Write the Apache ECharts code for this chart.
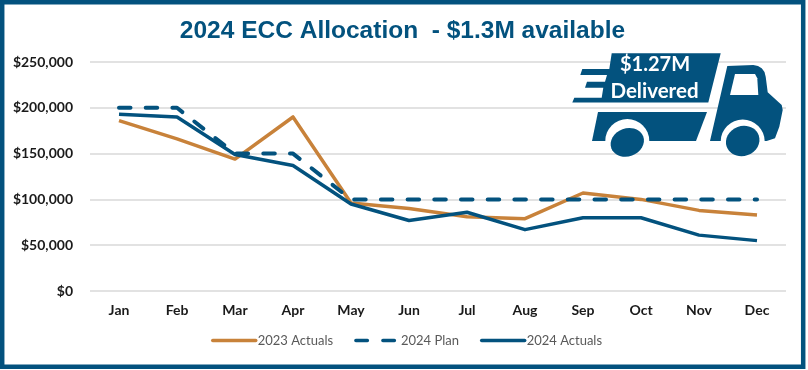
<!DOCTYPE html>
<html><head><meta charset="utf-8">
<style>html,body{margin:0;padding:0;background:#fff}#c{width:808px;height:370px}</style>
<script src="https://cdn.jsdelivr.net/npm/echarts@6/dist/echarts.min.js"></script>
</head><body><div id="c"></div>
<script>
const months = ['Jan','Feb','Mar','Apr','May','Jun','Jul','Aug','Sep','Oct','Nov','Dec'];
const actuals2023 = [186000,166000,144000,190000,96000,90000,81000,79000,107000,100000,88000,83000];
const plan2024 = [200000,200000,150000,150000,100000,100000,100000,100000,100000,100000,100000,100000];
const actuals2024 = [193000,190000,149000,137000,95000,77000,86000,67000,80000,80000,61000,55000];
const NAVY = '#03527e', ORANGE = '#c8823a';
const font = 'Lato, "Open Sans", sans-serif';
const truckBox = [[611.7,53.3],[720.7,53.3],[708.3,102.5],[572.3,102.5],[574.3,97.7],[601.7,97.7],[603.3,87.7],[585,87.7],[587,81.7],[605,81.7],[607,75],[580.3,75],[582.3,69],[609.3,69]];
const truckBody = [[598,112],[707,112],[696,141],[592,141]];
const truckCab = [[727.3,66],[753.3,65],[758,66],[761.7,68.3],[764.5,72],[765.7,76.7],[767.7,92.3],[781.7,105],[782.7,110],[779.3,126.7],[775,138.3],[766.7,141],[710,141]];
const truckWindow = [[735,74],[755,74],[757.3,78.3],[758.3,95],[730,95]];
const arch = (cx, cy, r) => ({type:'sector', z:21, shape:{cx, cy, r, startAngle:Math.PI, endAngle:2*Math.PI}, style:{fill:'#fff'}});
const wheel = (x, y, rx, ry) => ({type:'ellipse', z:22, x, y, rotation:0.35, shape:{cx:0, cy:0, rx, ry}, style:{fill:NAVY}});
const poly = (points, fill, z) => ({type:'polygon', z, shape:{points}, style:{fill}});
const chart = echarts.init(document.getElementById('c'), null, {renderer:'canvas'});
chart.setOption({
  animation:false,
  backgroundColor:'#fff',
  title:{text:'2024 ECC Allocation  - $1.3M available', left:397.5, top:14, textAlign:'center',
    textStyle:{fontFamily:'"Liberation Sans", Arial, sans-serif', fontWeight:'bold', fontSize:24.5, color:NAVY}},
  grid:{left:90, right:22, top:62, bottom:79},
  legend:{bottom:18, left:206, itemWidth:43, itemHeight:4, itemGap:21,
    itemStyle:{opacity:0},
    lineStyle:{width:3.5, cap:'round'},
    textStyle:{fontFamily:font, fontSize:13, color:'#595959', padding:[0,0,0,-3]},
    data:['2023 Actuals',{name:'2024 Plan', lineStyle:{type:[11.5,15.5], width:3.5, cap:'round'}},'2024 Actuals']},
  xAxis:{type:'category', data:months, boundaryGap:true,
    axisLine:{show:false}, axisTick:{show:false},
    axisLabel:{fontFamily:font, fontWeight:'bold', fontSize:14, color:'#1a1a1a', margin:12}},
  yAxis:{type:'value', min:0, max:250000, interval:50000,
    axisLine:{show:false}, axisTick:{show:false},
    splitLine:{lineStyle:{color:'#d9d9d9', width:1.5}},
    axisLabel:{fontFamily:font, fontWeight:'bold', fontSize:14, color:'#1a1a1a', margin:17,
      formatter:v => '$' + v.toLocaleString('en-US')}},
  series:[
    {name:'2023 Actuals', type:'line', data:actuals2023, symbol:'none', z:3, lineStyle:{color:ORANGE, width:3.5, join:'round'}, itemStyle:{color:ORANGE}},
    {name:'2024 Plan', type:'line', data:plan2024, symbol:'none', z:4, lineStyle:{color:NAVY, width:4, type:[11.5,15.2], cap:'round', join:'round'}, itemStyle:{color:NAVY}},
    {name:'2024 Actuals', type:'line', data:actuals2024, symbol:'none', z:5, lineStyle:{color:NAVY, width:3.5, join:'round'}, itemStyle:{color:NAVY}}
  ],
  graphic:[
    {type:'rect', z:30, silent:true, shape:{x:2.2, y:2.2, width:801, height:364.5}, style:{fill:'none', stroke:NAVY, lineWidth:4.5}},
    poly(truckBox, NAVY, 20), poly(truckBody, NAVY, 20), poly(truckCab, NAVY, 20), poly(truckWindow, '#fff', 21),
    arch(627.3,141,22), arch(742.7,141.5,22), wheel(627.3,142.3,17,14), wheel(742.7,141,17,15),
    {type:'text', z:23, x:655, y:65, style:{text:'$1.27M', fill:'#fff', fontFamily:font, fontWeight:'bold', fontSize:20, textAlign:'center', textVerticalAlign:'middle'}},
    {type:'text', z:23, x:654.5, y:91, style:{text:'Delivered', fill:'#fff', fontFamily:font, fontWeight:'bold', fontSize:20.5, textAlign:'center', textVerticalAlign:'middle'}}
  ]
});
</script></body></html>
